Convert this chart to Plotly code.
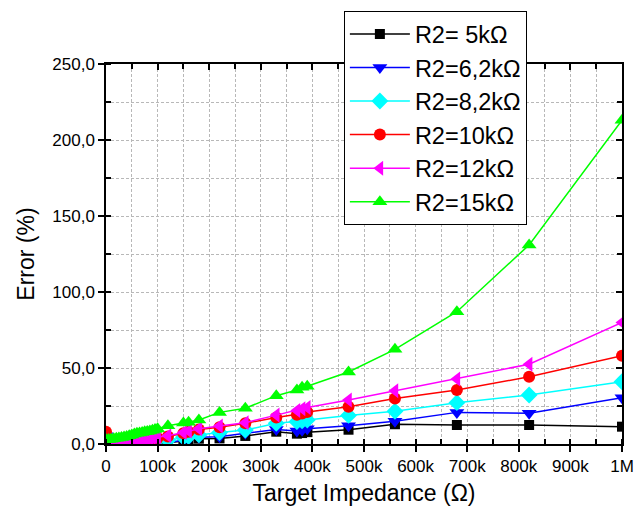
import plotly.graph_objects as go

# Target impedance (kΩ)
x_k = [0, 5, 10, 15, 20, 25, 30, 35, 40, 45, 50, 55, 60, 65, 70, 75, 80, 85, 90, 95, 100,
       120, 150, 160, 180, 220, 270, 330, 370, 380, 390, 470, 560, 680, 820, 1000]

err_5k = [3.0, 0.2, 0.3, 0.3, 0.4, 0.4, 0.5, 0.5, 0.6, 0.6, 0.7, 0.7, 0.8, 0.8, 0.9, 0.9, 1.0, 1.0, 1.1, 1.2, 1.3,
          0.8, 2.0, 2.5, 3.5, 3.7, 5.3, 8.1, 6.8, 7.2, 7.8, 9.4, 13.0, 12.5, 12.5, 11.4]
err_6k2 = [5.5, 0.3, 0.4, 0.5, 0.5, 0.6, 0.7, 0.7, 0.8, 0.9, 1.0, 1.0, 1.1, 1.2, 1.3, 1.4, 1.5, 1.6, 1.7, 1.8, 2.0,
           1.0, 2.5, 3.0, 4.5, 4.8, 7.0, 9.5, 8.5, 9.0, 10.0, 12.0, 15.0, 20.8, 20.2, 30.5]
err_8k2 = [4.0, 0.5, 0.6, 0.7, 0.8, 0.9, 1.0, 1.1, 1.2, 1.3, 1.4, 1.5, 1.7, 1.8, 1.9, 2.1, 2.2, 2.4, 2.6, 2.8, 3.0,
           2.5, 4.5, 5.0, 6.0, 7.5, 9.2, 13.6, 14.7, 15.2, 15.8, 18.8, 21.5, 27.2, 32.2, 41.0]
err_10k = [8.0, 0.8, 0.9, 1.0, 1.1, 1.3, 1.4, 1.5, 1.7, 1.8, 2.0, 2.1, 2.3, 2.5, 2.7, 2.9, 3.1, 3.3, 3.5, 3.8, 4.0,
           5.0, 7.0, 8.0, 9.5, 11.0, 13.6, 17.5, 19.2, 20.0, 21.0, 24.5, 30.0, 35.5, 44.2, 58.0]
err_12k = [1.0, 1.0, 1.1, 1.2, 1.3, 1.5, 1.6, 1.8, 2.0, 2.1, 2.3, 2.5, 2.7, 2.9, 3.1, 3.3, 3.6, 3.8, 4.1, 4.3, 4.6,
           5.5, 7.5, 8.5, 10.0, 11.8, 14.0, 19.0, 22.0, 23.2, 24.0, 29.0, 35.0, 42.8, 52.5, 80.0]
err_15k = [3.0, 3.0, 3.2, 3.5, 3.8, 4.0, 4.3, 4.6, 5.0, 5.5, 6.0, 6.5, 7.0, 7.3, 7.6, 8.0, 8.3, 8.6, 9.0, 9.5, 10.0,
           12.0, 13.8, 14.3, 15.8, 20.8, 23.5, 31.8, 35.5, 37.3, 38.0, 47.4, 62.3, 87.0, 131.0, 213.0]

series_names = ["R2= 5kΩ", "R2=6,2kΩ", "R2=8,2kΩ", "R2=10kΩ", "R2=12kΩ", "R2=15kΩ"]
series_vals = [err_5k, err_6k2, err_8k2, err_10k, err_12k, err_15k]
colors = ["#000000", "#0000ff", "#00ffff", "#ff0000", "#ff00ff", "#00ff00"]
symbols = ["square", "triangle-down", "diamond", "circle", "triangle-left", "triangle-up"]
sizes = [10, 13, 13, 12, 13, 13]

x_tick_vals = [0, 100e3, 200e3, 300e3, 400e3, 500e3, 600e3, 700e3, 800e3, 900e3, 1e6]
x_tick_text = ["0", "100k", "200k", "300k", "400k", "500k", "600k", "700k", "800k", "900k", "1M"]
y_tick_vals = [0, 50, 100, 150, 200, 250]
y_tick_text = ["0,0", "50,0", "100,0", "150,0", "200,0", "250,0"]

x_ohm = [v * 1000 for v in x_k]
FONT = "Arial, Liberation Sans, sans-serif"

fig = go.Figure()
for i, (name, vals) in enumerate(zip(series_names, series_vals)):
    fig.add_trace(go.Scatter(
        x=x_ohm, y=vals, name=name, mode="lines+markers",
        line=dict(color=colors[i], width=1.5),
        marker=dict(symbol=symbols[i], size=sizes[i], color=colors[i]),
        legendgroup=f"g{i}",
    ))

# dummy trace so the mirror axes (top/right) are drawn
fig.add_trace(go.Scatter(x=[None], y=[None], xaxis="x2", yaxis="y2",
                         showlegend=False, hoverinfo="skip"))

GRIDC = "#b8b8b8"
grid = dict(showgrid=True, gridcolor=GRIDC, gridwidth=1, griddash="3px,2px")

fig.update_layout(
    width=635, height=504,
    margin=dict(l=98, r=21, t=56, b=68, autoexpand=False),
    paper_bgcolor="white", plot_bgcolor="white",
    font=dict(family=FONT, color="black", size=17),
    xaxis=dict(
        range=[0, 1e6], tickvals=x_tick_vals, ticktext=x_tick_text, automargin=False,
        showline=True, linecolor="black", linewidth=1.5,
        ticks="outside", ticklen=6, tickwidth=1.5, tickcolor="black",
        minor=dict(dtick=50e3, ticks="inside", ticklen=5, tickwidth=1.5, tickcolor="black",
                   showgrid=True, gridcolor=GRIDC, griddash="3px,2px"),
        tickfont=dict(size=17),
        title=dict(text="Target Impedance (Ω)", font=dict(size=23), standoff=10),
        zeroline=False, **grid,
    ),
    yaxis=dict(
        range=[0, 250], tickvals=y_tick_vals, ticktext=y_tick_text, automargin=False,
        showline=True, linecolor="black", linewidth=1.5,
        ticks="outside", ticklen=6, tickwidth=1.5, tickcolor="black",
        minor=dict(dtick=25, ticks="inside", ticklen=5, tickwidth=1.5, tickcolor="black",
                   showgrid=True, gridcolor=GRIDC, griddash="3px,2px"),
        tickfont=dict(size=17),
        title=dict(text="Error (%)", font=dict(size=23), standoff=11),
        zeroline=False, **grid,
    ),
    xaxis2=dict(
        range=[0, 1e6], overlaying="x", side="top", anchor="y", automargin=False,
        showline=True, linecolor="black", linewidth=1.5,
        tickvals=x_tick_vals, showticklabels=False,
        ticks="inside", ticklen=6, tickwidth=1.5, tickcolor="black",
        minor=dict(dtick=50e3, ticks="inside", ticklen=5, tickwidth=1.5, tickcolor="black"),
        showgrid=False, zeroline=False,
    ),
    yaxis2=dict(
        range=[0, 250], overlaying="y", side="right", anchor="x", automargin=False,
        showline=True, linecolor="black", linewidth=1.5,
        tickvals=y_tick_vals, showticklabels=False,
        ticks="inside", ticklen=6, tickwidth=1.5, tickcolor="black",
        minor=dict(dtick=25, ticks="inside", ticklen=5, tickwidth=1.5, tickcolor="black"),
        showgrid=False, zeroline=False,
    ),
    legend=dict(
        x=0.461, y=1.139, xanchor="left", yanchor="top",
        bgcolor="white", bordercolor="black", borderwidth=1,
        font=dict(size=23.5, family=FONT),
        tracegroupgap=0, itemwidth=60,
    ),
    showlegend=True,
)

fig.write_html("out.html")
